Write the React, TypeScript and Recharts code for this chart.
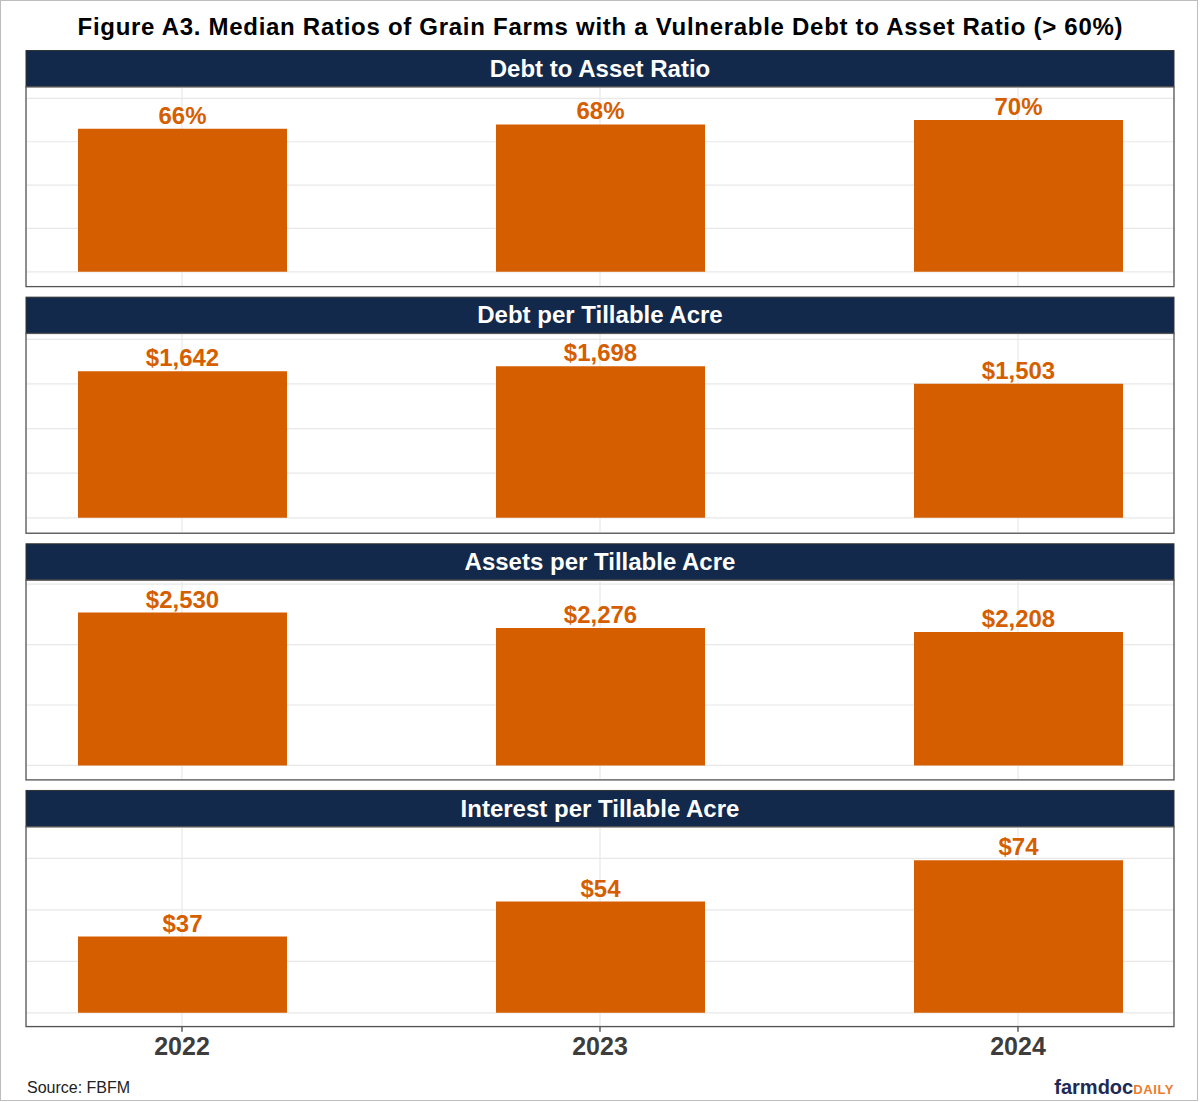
import { BarChart, Bar, XAxis, YAxis, CartesianGrid, LabelList } from "recharts";

const years = [2022, 2023, 2024];
const debtToAsset = [66, 68, 70];
const debtPerAcre = [1642, 1698, 1503];
const assetsPerAcre = [2530, 2276, 2208];
const interestPerAcre = [37, 54, 74];

const panelTitles = [
  "Debt to Asset Ratio",
  "Debt per Tillable Acre",
  "Assets per Tillable Acre",
  "Interest per Tillable Acre",
];
const panelTicks = [
  [0, 20, 40, 60, 80],
  [0, 500, 1000, 1500, 2000],
  [0, 1000, 2000, 3000],
  [0, 25, 50, 75],
];
const panelDomains: [number, number][] = [
  [-6.9, 85.25],
  [-168, 2071],
  [-237, 3068],
  [-6.8, 90.2],
];

const pct = (v: number) => `${v}%`;
const usd = (v: number) => `$${v.toLocaleString("en-US")}`;

const panels = [
  { values: debtToAsset, fmt: pct },
  { values: debtPerAcre, fmt: usd },
  { values: assetsPerAcre, fmt: usd },
  { values: interestPerAcre, fmt: usd },
];

const FONT = "'Liberation Sans', Arial, Helvetica, sans-serif";
const NAVY = "#13294B";
const ORANGE = "#D55E00";

const PANEL_LEFT = 26;
const PANEL_W = 1148;
const STRIP_TOP0 = 50.5;
const STRIP_H = 36.3;
const BODY_H = 199.8;
const STEP = 246.65;
const AXIS_H = 40;

function Panel({ i }: { i: number }) {
  const { values, fmt } = panels[i];
  const data = years.map((y, k) => ({ year: y, value: values[k] }));
  const last = i === panels.length - 1;
  const top = STRIP_TOP0 + i * STEP + STRIP_H;
  return (
    <div style={{ position: "absolute", left: PANEL_LEFT, top }}>
      <BarChart
        width={PANEL_W}
        height={BODY_H + (last ? AXIS_H : 0)}
        data={data}
        margin={{ top: 0, right: 0, bottom: 0, left: 0 }}
      >
        <CartesianGrid stroke="#E8E8E8" strokeWidth={1.2} />
        <XAxis
          dataKey="year"
          type="number"
          domain={[2021.6268, 2024.3732]}
          ticks={years}
          allowDataOverflow
          hide={!last}
          height={AXIS_H}
          axisLine={false}
          tickSize={5}
          tickMargin={5}
          tickLine={{ stroke: "#333", strokeWidth: 1.2 }}
          tick={{ fontSize: 25, fontWeight: 700, fill: "#3D3D3D", fontFamily: FONT }}
        />
        <YAxis
          type="number"
          domain={panelDomains[i]}
          ticks={panelTicks[i]}
          allowDataOverflow
          hide
        />
        <Bar dataKey="value" fill={ORANGE} barSize={209} isAnimationActive={false}>
          <LabelList
            dataKey="value"
            position="top"
            offset={5}
            formatter={(v: any) => fmt(Number(v))}
            style={{ fontSize: 24, fontWeight: 700, fill: ORANGE, fontFamily: FONT }}
          />
        </Bar>
      </BarChart>
    </div>
  );
}

export default function App() {
  return (
    <div
      style={{
        position: "absolute",
        left: 0,
        top: 0,
        width: 1200,
        height: 1102,
        background: "#fff",
        fontFamily: FONT,
      }}
    >
      <svg width={1200} height={1102} style={{ position: "absolute", left: 0, top: 0 }}>
        <rect x={0.5} y={0.5} width={1197} height={1100} fill="#fff" stroke="#BDBDBD" />
        <text
          x={600}
          y={35}
          textAnchor="middle"
          fontSize={24}
          fontWeight={700}
          fill="#000"
          fontFamily={FONT}
          textLength={1045}
          lengthAdjust="spacing"
        >
          Figure A3. Median Ratios of Grain Farms with a Vulnerable Debt to Asset Ratio (&gt; 60%)
        </text>
        {panelTitles.map((t, i) => {
          const y = STRIP_TOP0 + i * STEP;
          return (
            <g key={t}>
              <rect
                x={PANEL_LEFT}
                y={y}
                width={PANEL_W}
                height={STRIP_H}
                fill={NAVY}
                stroke="#333"
                strokeWidth={1}
              />
              <text
                x={600}
                y={y + STRIP_H / 2 + 8}
                textAnchor="middle"
                fontSize={24}
                fontWeight={700}
                fill="#fff"
                fontFamily={FONT}
              >
                {t}
              </text>
            </g>
          );
        })}
        <text x={27} y={1092.5} fontSize={16} fill="#222" fontFamily={FONT}>
          Source: FBFM
        </text>
        <text x={1174} y={1094} textAnchor="end" fontWeight={700} fontFamily={FONT}>
          <tspan fontSize={20} fill="#1E2A55">farmdoc</tspan>
          <tspan fontSize={13} fill="#EE7A2C" letterSpacing={0.6}>DAILY</tspan>
        </text>
      </svg>
      {panels.map((_, i) => (
        <Panel key={i} i={i} />
      ))}
      <svg
        width={1200}
        height={1102}
        style={{ position: "absolute", left: 0, top: 0, pointerEvents: "none" }}
      >
        {panels.map((_, i) => (
          <rect
            key={i}
            x={PANEL_LEFT}
            y={STRIP_TOP0 + i * STEP + STRIP_H}
            width={PANEL_W}
            height={BODY_H}
            fill="none"
            stroke="#555"
            strokeWidth={1.3}
          />
        ))}
      </svg>
    </div>
  );
}
